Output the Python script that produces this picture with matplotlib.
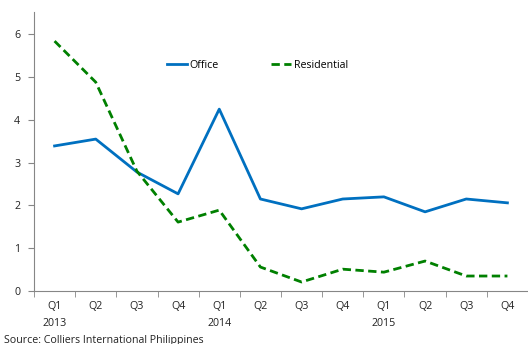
import numpy as np
import matplotlib
matplotlib.use("Agg")
import matplotlib.pyplot as plt

plt.rcParams['font.family'] = ['Open Sans', 'DejaVu Sans']

quarters = ["Q1", "Q2", "Q3", "Q4", "Q1", "Q2", "Q3", "Q4", "Q1", "Q2", "Q3", "Q4"]
years = ["2013", "", "", "", "2014", "", "", "", "2015", "", "", ""]
office = [3.39, 3.55, 2.78, 2.27, 4.25, 2.15, 1.92, 2.15, 2.20, 1.85, 2.15, 2.06]
residential = [5.84, 4.88, 2.80, 1.61, 1.89, 0.56, 0.21, 0.51, 0.44, 0.70, 0.35, 0.35]

W, H = 528, 344
fig = plt.figure(figsize=(W/100, H/100), dpi=100)
ax = fig.add_axes([34/W, 53/H, (W-34)/W, 279/H])

x = np.arange(len(quarters))
ax.plot(x, office, color="#0070C0", lw=2.0, label="Office")
ax.plot(x, residential, color="#008000", lw=2.0, ls=(0, (3, 1.6)), label="Residential")

ax.set_xlim(-0.5, 11.43)
ax.set_ylim(0, 6.52)
ax.set_yticks(range(0, 7))
ax.set_xticks(x)
ax.set_xticklabels([q + "\n" + y for q, y in zip(quarters, years)], fontsize=7.7, color="#222222", linespacing=1.65)
ax.set_xticks(np.arange(-0.5, 12, 1), minor=True)
ax.tick_params(axis="x", which="major", length=0, pad=7.5)
ax.tick_params(axis="x", which="minor", length=4, color="#868686")
ax.tick_params(axis="y", length=4, color="#868686", labelsize=7.7, labelcolor="#222222", pad=6)
for side in ["top", "right"]:
    ax.spines[side].set_visible(False)
for side in ["left", "bottom"]:
    ax.spines[side].set_color("#868686")

ax.legend(loc="center", bbox_to_anchor=(0.452, 0.81), ncol=2, frameon=False,
          fontsize=7.7, handlelength=1.9, handletextpad=0.2, columnspacing=4.9)

fig.text(4/W, 1 - 340/H, "Source: Colliers International Philippines", fontsize=7.7,
         color="#222222", va="center", ha="left")

fig.savefig("out.png", dpi=100)
